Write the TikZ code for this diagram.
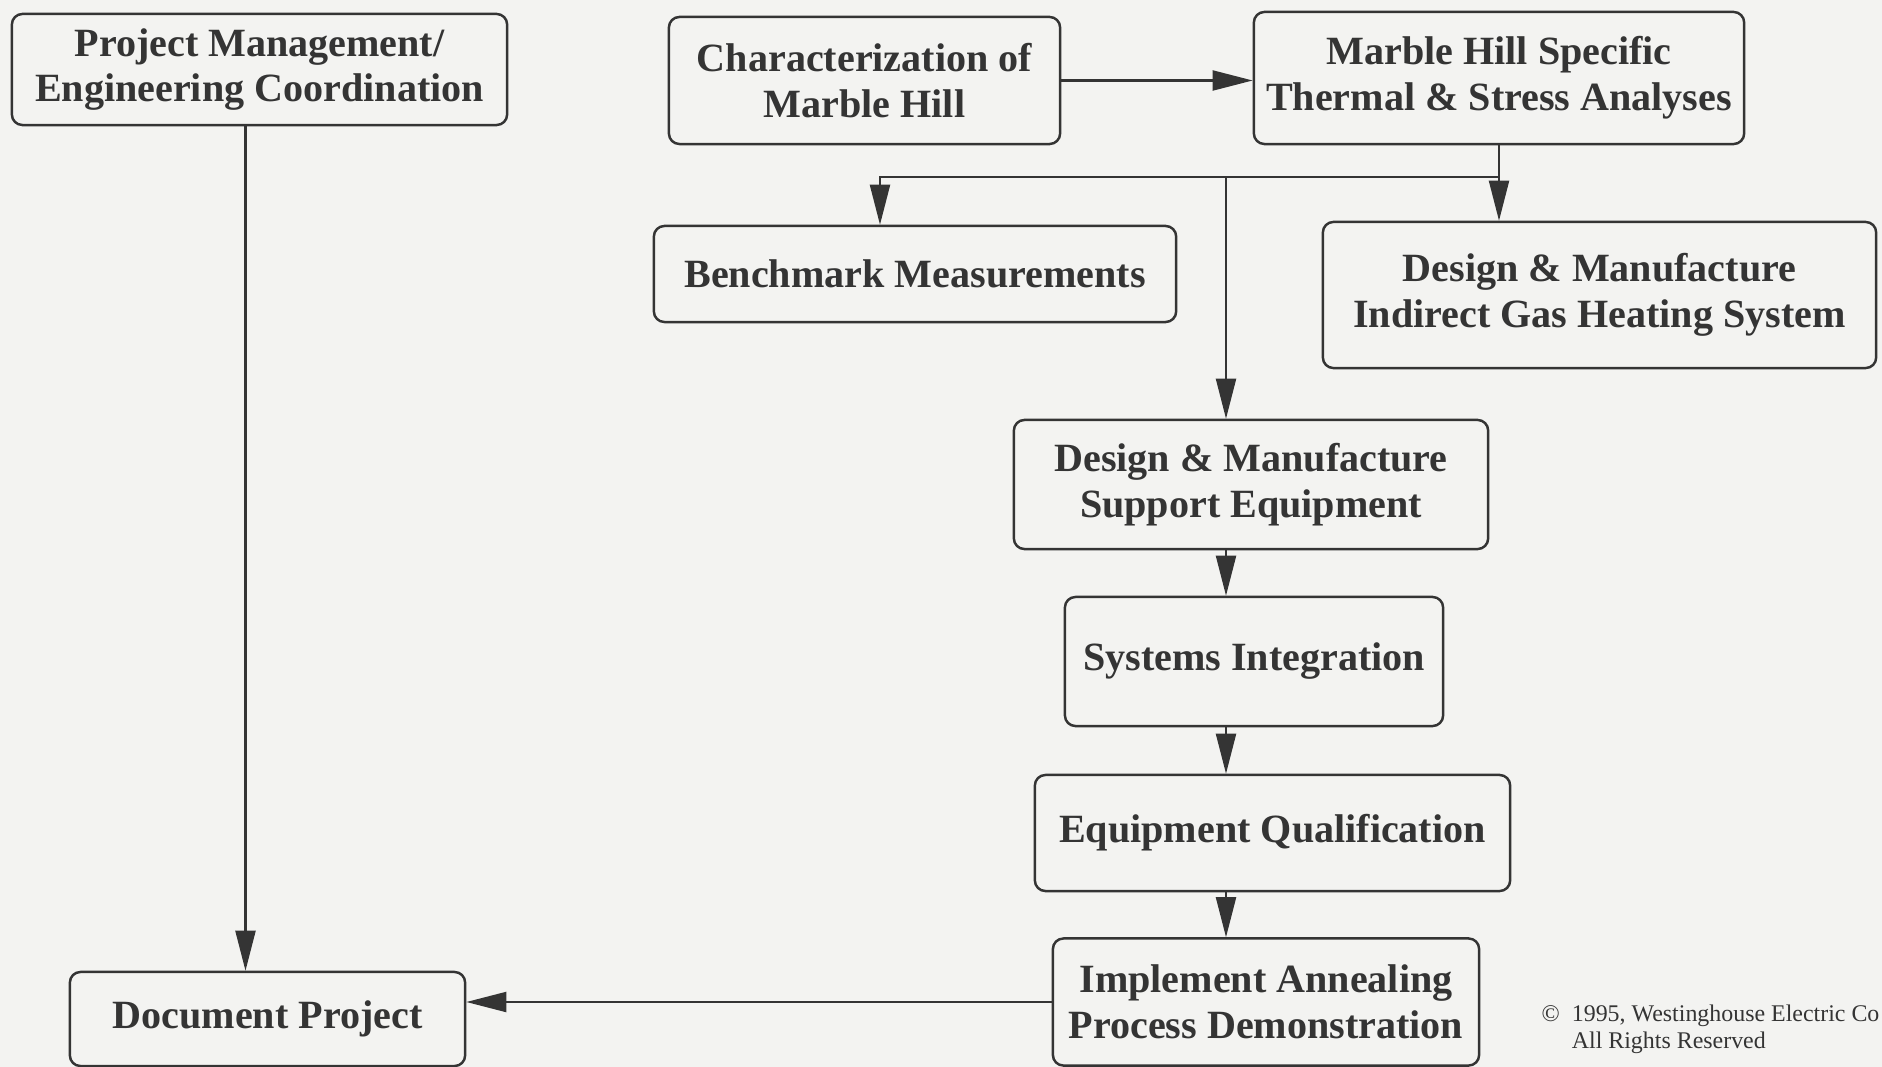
\documentclass[tikz,border=0pt]{standalone}
\usepackage{fontspec}
\setmainfont{Liberation Serif}
\usepackage{xcolor}
\usepackage{tikz}
\usetikzlibrary{arrows.meta,calc,positioning}
\definecolor{paper}{RGB}{243,243,241}
\definecolor{ink}{RGB}{52,52,52}
\tikzset{
	box/.style={draw=ink, line width=0.7pt, rounded corners=3pt, align=center,
		text=ink, inner xsep=2pt, font=\fontsize{11.4}{13}\selectfont\bfseries},
	arr/.style={draw=ink, line width=0.6pt, -{Triangle[length=0.4cm,width=0.2cm]}},
	link/.style={draw=ink, line width=0.6pt}
	}
\begin{document}
\begin{tikzpicture}[x=0.01cm, y=-0.01cm]

	% page
	\fill[paper] (0,0) rectangle (1882,1067);
	\useasboundingbox (0,0) rectangle (1882,1067);

	% boxes
	\node[box, minimum width=4.95cm, minimum height=1.11cm] (pm) at (259.5,69.5) {Project Management/\\Engineering Coordination};
	\node[box, minimum width=3.91cm, minimum height=1.27cm] (char) at (864.5,80.5) {Characterization of\\Marble Hill};
	\node[box, minimum width=4.90cm, minimum height=1.32cm] (mhs) at (1499,78) {Marble Hill Specific\\Thermal \& Stress Analyses};
	\node[box, minimum width=5.22cm, minimum height=0.96cm] (bench) at (915,274) {Benchmark Measurements};
	\node[box, minimum width=5.53cm, minimum height=1.46cm] (dmig) at (1599.5,295) {Design \& Manufacture\\Indirect Gas Heating System};
	\node[box, minimum width=4.74cm, minimum height=1.29cm] (dmse) at (1251,484.5) {Design \& Manufacture\\Support Equipment};
	\node[box, minimum width=3.78cm, minimum height=1.29cm] (si) at (1254,661.5) {Systems Integration};
	\node[box, minimum width=4.75cm, minimum height=1.16cm] (eq) at (1272.5,833) {Equipment Qualification};
	\node[box, minimum width=4.26cm, minimum height=1.27cm] (iapd) at (1266,1002) {Implement Annealing\\Process Demonstration};
	\node[box, minimum width=3.95cm, minimum height=0.94cm] (dp) at (267.5,1019) {Document Project};

	\node[anchor=north west, inner sep=0pt, align=left, text=ink, font=\fontsize{6.8}{7.8}\selectfont] (copy) at (1541,1004)
		{\textcopyright\ \ 1995, Westinghouse Electric Co\\ \hphantom{\textcopyright\ \ }All Rights Reserved};

	% connectors
	\draw[arr] (char.east) -- (char.east -| mhs.west);
	\path (mhs.south) ++(0,32) coordinate (fork);
	\path (fork) ++(-273,0) coordinate (spine);
	\draw[link] (mhs.south) -- (fork);
	\draw[arr] (fork) -| ([xshift=-0.35cm]bench.north);
	\draw[arr] (fork) -- (fork |- dmig.north);
	\draw[arr] (spine) -- (spine |- dmse.north);
	\draw[arr] (spine |- dmse.south) -- (spine |- si.north);
	\draw[arr] (spine |- si.south) -- (spine |- eq.north);
	\draw[arr] (spine |- eq.south) -- (spine |- iapd.north);
	\draw[arr] ([xshift=-0.14cm]pm.south) -- ([xshift=-0.14cm]pm.south |- dp.north);
	\draw[arr] (iapd.west) -- (iapd.west -| dp.east);

\end{tikzpicture}
\end{document}
